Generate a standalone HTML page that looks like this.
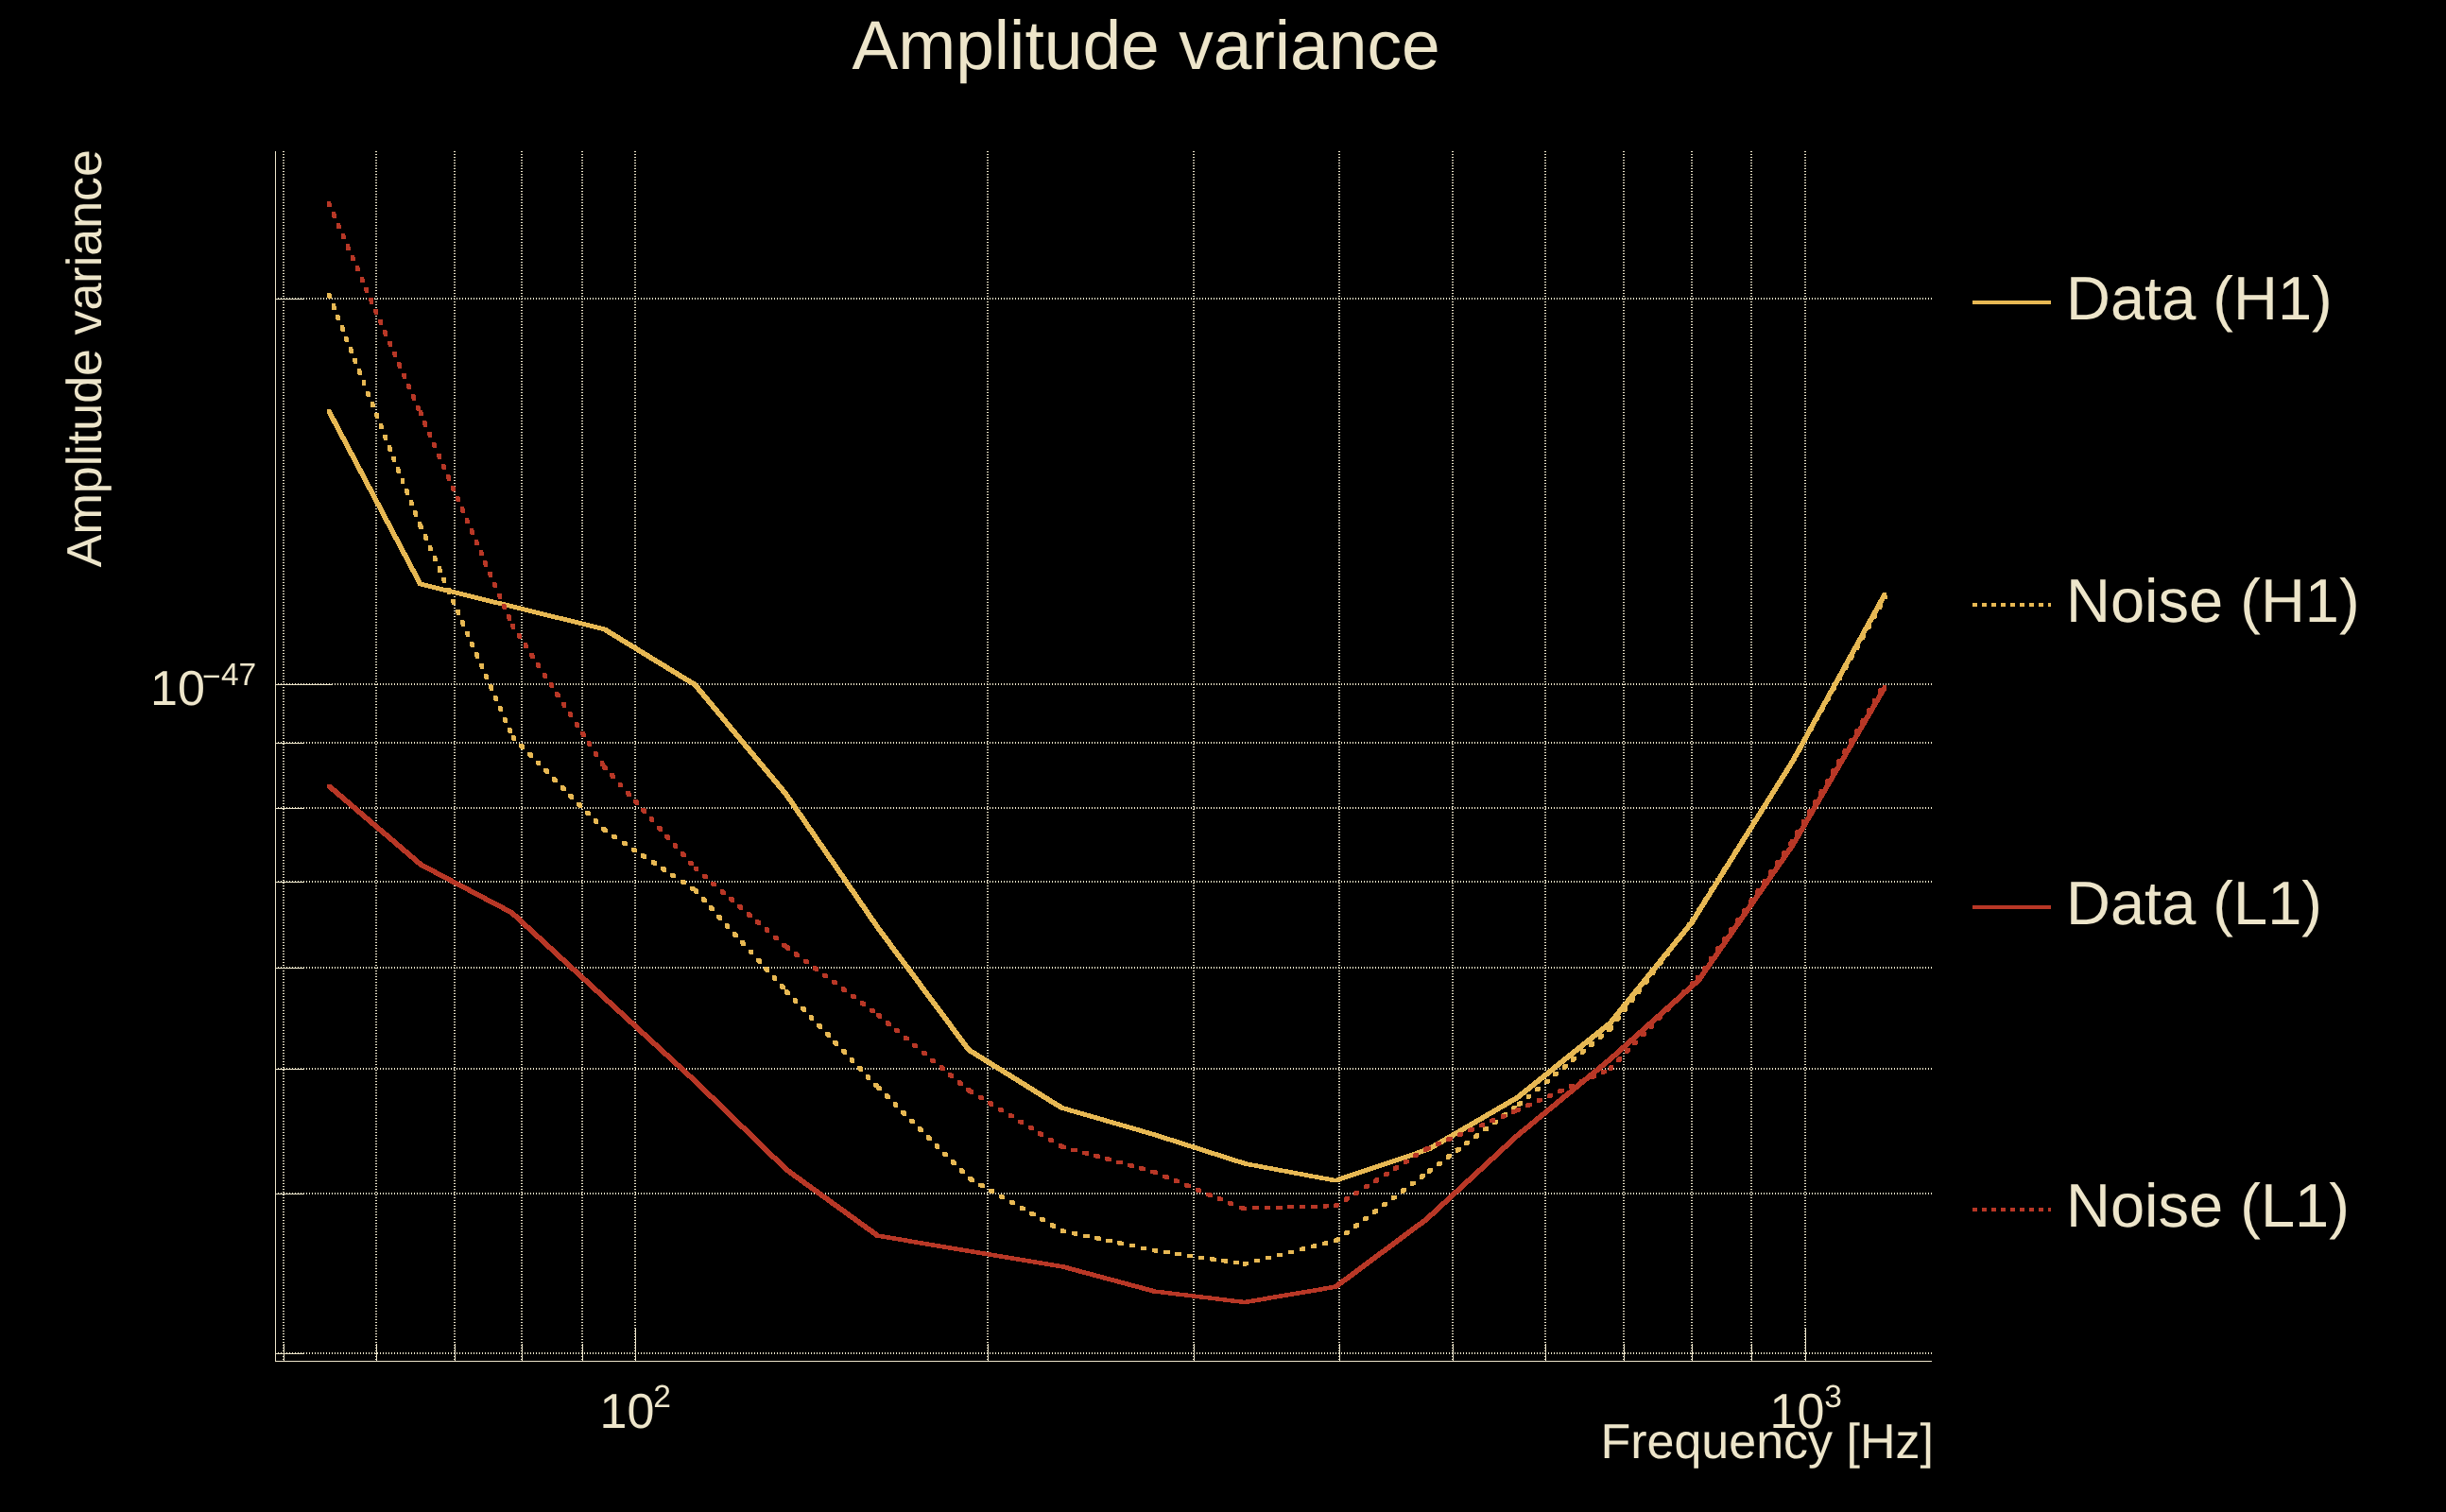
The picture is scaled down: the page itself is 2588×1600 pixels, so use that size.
<!DOCTYPE html>
<html><head><meta charset="utf-8"><title>Amplitude variance</title>
<style>html,body{margin:0;padding:0;background:#000;}body{width:2588px;height:1600px;overflow:hidden;}svg{display:block;}text{font-family:"Liberation Sans",sans-serif;fill:#EDE5CA;text-rendering:geometricPrecision;}</style>
</head><body>
<svg width="2588" height="1600" viewBox="0 0 2588 1600">
<rect x="0" y="0" width="2588" height="1600" fill="#000"/>
<g stroke="#EDE5CA" stroke-width="2" stroke-dasharray="1 2" shape-rendering="crispEdges" fill="none">
<line x1="300" y1="160" x2="300" y2="1440"/>
<line x1="398" y1="160" x2="398" y2="1440"/>
<line x1="481" y1="160" x2="481" y2="1440"/>
<line x1="552" y1="160" x2="552" y2="1440"/>
<line x1="616" y1="160" x2="616" y2="1440"/>
<line x1="1045" y1="160" x2="1045" y2="1440"/>
<line x1="1263" y1="160" x2="1263" y2="1440"/>
<line x1="1417" y1="160" x2="1417" y2="1440"/>
<line x1="1537" y1="160" x2="1537" y2="1440"/>
<line x1="1635" y1="160" x2="1635" y2="1440"/>
<line x1="1718" y1="160" x2="1718" y2="1440"/>
<line x1="1790" y1="160" x2="1790" y2="1440"/>
<line x1="1853" y1="160" x2="1853" y2="1440"/>
<line x1="672" y1="160" x2="672" y2="1440"/>
<line x1="1910" y1="160" x2="1910" y2="1440"/>
<line x1="291" y1="316" x2="2044" y2="316"/>
<line x1="291" y1="786" x2="2044" y2="786"/>
<line x1="291" y1="855" x2="2044" y2="855"/>
<line x1="291" y1="933" x2="2044" y2="933"/>
<line x1="291" y1="1024" x2="2044" y2="1024"/>
<line x1="291" y1="1131" x2="2044" y2="1131"/>
<line x1="291" y1="1263" x2="2044" y2="1263"/>
<line x1="291" y1="1432" x2="2044" y2="1432"/>
<line x1="291" y1="724" x2="2044" y2="724"/>
</g>
<g fill="#EDE5CA" shape-rendering="crispEdges">
<rect x="291" y="160" width="1" height="1281"/>
<rect x="291" y="1440" width="1753" height="1"/>
<rect x="300" y="1422" width="1" height="18"/>
<rect x="398" y="1422" width="1" height="18"/>
<rect x="481" y="1422" width="1" height="18"/>
<rect x="552" y="1422" width="1" height="18"/>
<rect x="616" y="1422" width="1" height="18"/>
<rect x="1045" y="1422" width="1" height="18"/>
<rect x="1263" y="1422" width="1" height="18"/>
<rect x="1417" y="1422" width="1" height="18"/>
<rect x="1537" y="1422" width="1" height="18"/>
<rect x="1635" y="1422" width="1" height="18"/>
<rect x="1718" y="1422" width="1" height="18"/>
<rect x="1790" y="1422" width="1" height="18"/>
<rect x="1853" y="1422" width="1" height="18"/>
<rect x="672" y="1405" width="1" height="35"/>
<rect x="1910" y="1405" width="1" height="35"/>
<rect x="291" y="316" width="31" height="1"/>
<rect x="291" y="786" width="31" height="1"/>
<rect x="291" y="855" width="31" height="1"/>
<rect x="291" y="933" width="31" height="1"/>
<rect x="291" y="1024" width="31" height="1"/>
<rect x="291" y="1131" width="31" height="1"/>
<rect x="291" y="1263" width="31" height="1"/>
<rect x="291" y="1432" width="31" height="1"/>
<rect x="291" y="724" width="61" height="1"/>
</g>
<g shape-rendering="crispEdges" stroke="none">
<path fill="#E7B853" d="M345.8 432.7 L349.8 432.7 L446.6 615.9 L446.6 619.9 L442.6 619.9 L345.8 436.7ZM442.6 615.9 L446.6 615.9 L543.5 639.7 L543.5 643.7 L539.5 643.7 L442.6 619.9ZM539.5 639.7 L543.5 639.7 L641.4 663.8 L641.4 667.8 L637.4 667.8 L539.5 643.7ZM637.4 663.8 L641.4 663.8 L737.3 722.6 L737.3 726.6 L733.3 726.6 L637.4 667.8ZM733.3 722.6 L737.3 722.6 L833.7 838.4 L833.7 842.4 L829.7 842.4 L733.3 726.6ZM829.7 838.4 L833.7 838.4 L931.0 980.0 L931.0 984.0 L927.0 984.0 L829.7 842.4ZM927.0 980.0 L931.0 980.0 L1027.0 1109.0 L1027.0 1113.0 L1023.0 1113.0 L927.0 984.0ZM1023.0 1109.0 L1027.0 1109.0 L1125.4 1170.3 L1125.4 1174.3 L1121.4 1174.3 L1023.0 1113.0ZM1121.4 1170.3 L1125.4 1170.3 L1222.8 1198.5 L1222.8 1202.5 L1218.8 1202.5 L1121.4 1174.3ZM1218.8 1198.5 L1222.8 1198.5 L1319.9 1229.5 L1319.9 1233.5 L1315.9 1233.5 L1218.8 1202.5ZM1315.9 1229.5 L1319.9 1229.5 L1415.2 1247.3 L1415.2 1251.3 L1411.2 1251.3 L1315.9 1233.5ZM1411.2 1247.3 L1509.6 1214.1 L1513.6 1214.1 L1513.6 1218.1 L1415.2 1251.3 L1411.2 1251.3ZM1509.6 1214.1 L1603.3 1159.5 L1607.3 1159.5 L1607.3 1163.5 L1513.6 1218.1 L1509.6 1218.1ZM1603.3 1159.5 L1701.3 1081.0 L1705.3 1081.0 L1705.3 1085.0 L1607.3 1163.5 L1603.3 1163.5ZM1701.3 1081.0 L1788.5 973.5 L1792.5 973.5 L1792.5 977.5 L1705.3 1085.0 L1701.3 1085.0ZM1788.5 973.5 L1895.0 803.0 L1899.0 803.0 L1899.0 807.0 L1792.5 977.5 L1788.5 977.5ZM1895.0 803.0 L1992.3 626.8 L1996.3 626.8 L1996.3 630.8 L1899.0 807.0 L1895.0 807.0Z"/>
<path fill="#E7B853" d="M346.0 309.7 L350.0 309.7 L350.9 312.0 L350.9 316.0 L346.9 316.0 L346.0 313.7ZM350.6 321.2 L354.6 321.2 L355.5 323.6 L355.5 327.6 L351.5 327.6 L350.6 325.2ZM355.1 332.8 L359.1 332.8 L360.0 335.1 L360.0 339.1 L356.0 339.1 L355.1 336.8ZM359.7 344.3 L363.7 344.3 L364.6 346.6 L364.6 350.6 L360.6 350.6 L359.7 348.3ZM364.2 355.8 L368.2 355.8 L369.2 358.1 L369.2 362.1 L365.2 362.1 L364.2 359.8ZM368.8 367.4 L372.8 367.4 L373.7 369.7 L373.7 373.7 L369.7 373.7 L368.8 371.4ZM373.4 378.9 L377.4 378.9 L378.3 381.2 L378.3 385.2 L374.3 385.2 L373.4 382.9ZM377.9 390.4 L381.9 390.4 L382.8 392.7 L382.8 396.7 L378.8 396.7 L377.9 394.4ZM382.5 402.0 L386.5 402.0 L387.4 404.3 L387.4 408.3 L383.4 408.3 L382.5 406.0ZM387.0 413.5 L391.0 413.5 L392.0 415.8 L392.0 419.8 L388.0 419.8 L387.0 417.5ZM391.6 425.0 L395.6 425.0 L396.5 427.3 L396.5 431.3 L392.5 431.3 L391.6 429.0ZM396.2 436.5 L400.2 436.5 L401.1 438.9 L401.1 442.9 L397.1 442.9 L396.2 440.5ZM400.7 448.1 L404.7 448.1 L405.6 450.4 L405.6 454.4 L401.6 454.4 L400.7 452.1ZM405.3 459.6 L409.3 459.6 L410.2 461.9 L410.2 465.9 L406.2 465.9 L405.3 463.6ZM409.8 471.1 L413.8 471.1 L414.8 473.5 L414.8 477.5 L410.8 477.5 L409.8 475.1ZM414.4 482.7 L418.4 482.7 L419.3 485.0 L419.3 489.0 L415.3 489.0 L414.4 486.7ZM419.0 494.2 L423.0 494.2 L423.9 496.5 L423.9 500.5 L419.9 500.5 L419.0 498.2ZM423.5 505.7 L427.5 505.7 L428.4 508.1 L428.4 512.1 L424.4 512.1 L423.5 509.7ZM428.1 517.3 L432.1 517.3 L433.0 519.6 L433.0 523.6 L429.0 523.6 L428.1 521.3ZM432.6 528.8 L436.6 528.8 L437.6 531.1 L437.6 535.1 L433.6 535.1 L432.6 532.8ZM437.2 540.3 L441.2 540.3 L442.1 542.6 L442.1 546.6 L438.1 546.6 L437.2 544.3ZM441.8 551.9 L445.8 551.9 L446.6 554.0 L446.6 558.0 L442.6 558.0 L441.8 555.9ZM442.6 554.0 L446.6 554.0 L447.6 556.3 L447.6 560.3 L443.6 560.3 L442.6 558.0ZM447.6 565.4 L451.6 565.4 L452.6 567.7 L452.6 571.7 L448.6 571.7 L447.6 569.4ZM452.5 576.7 L456.5 576.7 L457.5 579.0 L457.5 583.0 L453.5 583.0 L452.5 580.7ZM457.5 588.1 L461.5 588.1 L462.5 590.4 L462.5 594.4 L458.5 594.4 L457.5 592.1ZM462.5 599.4 L466.5 599.4 L467.5 601.7 L467.5 605.7 L463.5 605.7 L462.5 603.4ZM467.4 610.8 L471.4 610.8 L472.4 613.1 L472.4 617.1 L468.4 617.1 L467.4 614.8ZM472.4 622.2 L476.4 622.2 L477.4 624.5 L477.4 628.5 L473.4 628.5 L472.4 626.2ZM477.4 633.5 L481.4 633.5 L482.4 635.8 L482.4 639.8 L478.4 639.8 L477.4 637.5ZM482.3 644.9 L486.3 644.9 L487.3 647.2 L487.3 651.2 L483.3 651.2 L482.3 648.9ZM487.3 656.3 L491.3 656.3 L492.3 658.6 L492.3 662.6 L488.3 662.6 L487.3 660.3ZM492.3 667.6 L496.3 667.6 L497.3 669.9 L497.3 673.9 L493.3 673.9 L492.3 671.6ZM497.2 679.0 L501.2 679.0 L502.2 681.3 L502.2 685.3 L498.2 685.3 L497.2 683.0ZM502.2 690.3 L506.2 690.3 L507.2 692.6 L507.2 696.6 L503.2 696.6 L502.2 694.3ZM507.2 701.7 L511.2 701.7 L512.2 704.0 L512.2 708.0 L508.2 708.0 L507.2 705.7ZM512.1 713.1 L516.1 713.1 L517.1 715.4 L517.1 719.4 L513.1 719.4 L512.1 717.1ZM517.1 724.4 L521.1 724.4 L522.1 726.7 L522.1 730.7 L518.1 730.7 L517.1 728.4ZM522.1 735.8 L526.1 735.8 L527.1 738.1 L527.1 742.1 L523.1 742.1 L522.1 739.8ZM527.0 747.2 L531.0 747.2 L532.0 749.4 L532.0 753.4 L528.0 753.4 L527.0 751.2ZM532.0 758.5 L536.0 758.5 L537.0 760.8 L537.0 764.8 L533.0 764.8 L532.0 762.5ZM537.0 769.9 L541.0 769.9 L542.0 772.2 L542.0 776.2 L538.0 776.2 L537.0 773.9ZM540.5 778.0 L544.5 778.0 L546.3 779.8 L546.3 783.8 L542.3 783.8 L540.5 782.0ZM549.2 786.8 L553.2 786.8 L555.0 788.6 L555.0 792.6 L551.0 792.6 L549.2 790.8ZM557.9 795.7 L561.9 795.7 L563.7 797.5 L563.7 801.5 L559.7 801.5 L557.9 799.7ZM566.6 804.5 L570.6 804.5 L572.4 806.3 L572.4 810.3 L568.4 810.3 L566.6 808.5ZM575.3 813.3 L579.3 813.3 L581.1 815.1 L581.1 819.1 L577.1 819.1 L575.3 817.3ZM584.0 822.2 L588.0 822.2 L589.8 824.0 L589.8 828.0 L585.8 828.0 L584.0 826.2ZM592.7 831.0 L596.7 831.0 L598.5 832.8 L598.5 836.8 L594.5 836.8 L592.7 835.0ZM601.4 839.8 L605.4 839.8 L607.2 841.6 L607.2 845.6 L603.2 845.6 L601.4 843.8ZM610.1 848.7 L614.1 848.7 L615.9 850.5 L615.9 854.5 L611.9 854.5 L610.1 852.7ZM618.8 857.5 L622.8 857.5 L624.6 859.3 L624.6 863.3 L620.6 863.3 L618.8 861.5ZM627.5 866.4 L631.5 866.4 L633.3 868.1 L633.3 872.1 L629.3 872.1 L627.5 870.4ZM636.2 875.2 L640.2 875.2 L641.0 876.0 L641.0 880.0 L637.0 880.0 L636.2 879.2ZM637.0 876.0 L641.0 876.0 L643.1 877.4 L643.1 881.4 L639.1 881.4 L637.0 880.0ZM647.3 882.9 L651.3 882.9 L653.4 884.2 L653.4 888.2 L649.4 888.2 L647.3 886.9ZM657.7 889.7 L661.7 889.7 L663.8 891.1 L663.8 895.1 L659.8 895.1 L657.7 893.7ZM668.0 896.6 L672.0 896.6 L674.1 897.9 L674.1 901.9 L670.1 901.9 L668.0 900.6ZM678.3 903.4 L682.3 903.4 L684.4 904.8 L684.4 908.8 L680.4 908.8 L678.3 907.4ZM688.7 910.3 L692.7 910.3 L694.8 911.6 L694.8 915.6 L690.8 915.6 L688.7 914.3ZM699.0 917.1 L703.0 917.1 L705.1 918.5 L705.1 922.5 L701.1 922.5 L699.0 921.1ZM709.3 924.0 L713.3 924.0 L715.4 925.4 L715.4 929.4 L711.4 929.4 L709.3 928.0ZM719.7 930.8 L723.7 930.8 L725.8 932.2 L725.8 936.2 L721.8 936.2 L719.7 934.8ZM730.0 937.7 L734.0 937.7 L736.1 939.1 L736.1 943.1 L732.1 943.1 L730.0 941.7ZM733.5 940.0 L737.5 940.0 L739.2 941.9 L739.2 945.9 L735.2 945.9 L733.5 944.0ZM741.8 949.2 L745.8 949.2 L747.5 951.1 L747.5 955.1 L743.5 955.1 L741.8 953.2ZM750.1 958.4 L754.1 958.4 L755.8 960.3 L755.8 964.3 L751.8 964.3 L750.1 962.4ZM758.4 967.6 L762.4 967.6 L764.1 969.5 L764.1 973.5 L760.1 973.5 L758.4 971.6ZM766.7 976.8 L770.7 976.8 L772.4 978.7 L772.4 982.7 L768.4 982.7 L766.7 980.8ZM775.0 986.0 L779.0 986.0 L780.7 987.9 L780.7 991.9 L776.7 991.9 L775.0 990.0ZM783.3 995.2 L787.3 995.2 L789.0 997.1 L789.0 1001.1 L785.0 1001.1 L783.3 999.2ZM791.6 1004.5 L795.6 1004.5 L797.3 1006.3 L797.3 1010.3 L793.3 1010.3 L791.6 1008.5ZM799.9 1013.7 L803.9 1013.7 L805.6 1015.5 L805.6 1019.5 L801.6 1019.5 L799.9 1017.7ZM808.2 1022.9 L812.2 1022.9 L813.9 1024.7 L813.9 1028.7 L809.9 1028.7 L808.2 1026.9ZM816.5 1032.1 L820.5 1032.1 L822.2 1033.9 L822.2 1037.9 L818.2 1037.9 L816.5 1036.1ZM824.9 1041.3 L828.9 1041.3 L830.5 1043.1 L830.5 1047.1 L826.5 1047.1 L824.9 1045.3ZM830.0 1047.0 L834.0 1047.0 L835.7 1048.8 L835.7 1052.8 L831.7 1052.8 L830.0 1051.0ZM838.6 1056.0 L842.6 1056.0 L844.3 1057.8 L844.3 1061.8 L840.3 1061.8 L838.6 1060.0ZM847.1 1064.9 L851.1 1064.9 L852.9 1066.7 L852.9 1070.7 L848.9 1070.7 L847.1 1068.9ZM855.7 1073.9 L859.7 1073.9 L861.4 1075.7 L861.4 1079.7 L857.4 1079.7 L855.7 1077.9ZM864.3 1082.9 L868.3 1082.9 L870.0 1084.7 L870.0 1088.7 L866.0 1088.7 L864.3 1086.9ZM872.8 1091.8 L876.8 1091.8 L878.6 1093.6 L878.6 1097.6 L874.6 1097.6 L872.8 1095.8ZM881.4 1100.8 L885.4 1100.8 L887.1 1102.6 L887.1 1106.6 L883.1 1106.6 L881.4 1104.8ZM890.0 1109.8 L894.0 1109.8 L895.7 1111.6 L895.7 1115.6 L891.7 1115.6 L890.0 1113.8ZM898.5 1118.7 L902.5 1118.7 L904.3 1120.5 L904.3 1124.5 L900.3 1124.5 L898.5 1122.7ZM907.1 1127.7 L911.1 1127.7 L912.8 1129.5 L912.8 1133.5 L908.8 1133.5 L907.1 1131.7ZM915.7 1136.6 L919.7 1136.6 L921.4 1138.5 L921.4 1142.5 L917.4 1142.5 L915.7 1140.6ZM924.2 1145.6 L928.2 1145.6 L930.0 1147.4 L930.0 1151.4 L926.0 1151.4 L924.2 1149.6ZM927.0 1148.5 L931.0 1148.5 L932.8 1150.3 L932.8 1154.3 L928.8 1154.3 L927.0 1152.5ZM935.8 1157.2 L939.8 1157.2 L941.6 1159.0 L941.6 1163.0 L937.6 1163.0 L935.8 1161.2ZM944.6 1166.0 L948.6 1166.0 L950.4 1167.8 L950.4 1171.8 L946.4 1171.8 L944.6 1170.0ZM953.4 1174.7 L957.4 1174.7 L959.1 1176.5 L959.1 1180.5 L955.1 1180.5 L953.4 1178.7ZM962.2 1183.5 L966.2 1183.5 L967.9 1185.2 L967.9 1189.2 L963.9 1189.2 L962.2 1187.5ZM971.0 1192.2 L975.0 1192.2 L976.7 1194.0 L976.7 1198.0 L972.7 1198.0 L971.0 1196.2ZM979.7 1201.0 L983.7 1201.0 L985.5 1202.7 L985.5 1206.7 L981.5 1206.7 L979.7 1205.0ZM988.5 1209.7 L992.5 1209.7 L994.3 1211.5 L994.3 1215.5 L990.3 1215.5 L988.5 1213.7ZM997.3 1218.5 L1001.3 1218.5 L1003.1 1220.2 L1003.1 1224.2 L999.1 1224.2 L997.3 1222.5ZM1006.1 1227.2 L1010.1 1227.2 L1011.9 1229.0 L1011.9 1233.0 L1007.9 1233.0 L1006.1 1231.2ZM1014.9 1236.0 L1018.9 1236.0 L1020.7 1237.7 L1020.7 1241.7 L1016.7 1241.7 L1014.9 1240.0ZM1023.7 1244.7 L1027.7 1244.7 L1028.5 1245.5 L1028.5 1249.5 L1024.5 1249.5 L1023.7 1248.7ZM1024.5 1245.5 L1028.5 1245.5 L1030.7 1246.7 L1030.7 1250.7 L1026.7 1250.7 L1024.5 1249.5ZM1035.3 1251.6 L1039.3 1251.6 L1041.5 1252.8 L1041.5 1256.8 L1037.5 1256.8 L1035.3 1255.6ZM1046.1 1257.7 L1050.1 1257.7 L1052.3 1258.9 L1052.3 1262.9 L1048.3 1262.9 L1046.1 1261.7ZM1056.9 1263.8 L1060.9 1263.8 L1063.1 1265.0 L1063.1 1269.0 L1059.1 1269.0 L1056.9 1267.8ZM1067.7 1269.9 L1071.7 1269.9 L1073.9 1271.1 L1073.9 1275.1 L1069.9 1275.1 L1067.7 1273.9ZM1078.5 1276.0 L1082.5 1276.0 L1084.7 1277.2 L1084.7 1281.2 L1080.7 1281.2 L1078.5 1280.0ZM1089.3 1282.1 L1093.3 1282.1 L1095.5 1283.3 L1095.5 1287.3 L1091.5 1287.3 L1089.3 1286.1ZM1100.1 1288.2 L1104.1 1288.2 L1106.3 1289.4 L1106.3 1293.4 L1102.3 1293.4 L1100.1 1292.2ZM1110.9 1294.2 L1114.9 1294.2 L1117.1 1295.5 L1117.1 1299.5 L1113.1 1299.5 L1110.9 1298.2ZM1121.7 1300.3 L1125.7 1300.3 L1125.8 1300.4 L1125.8 1304.4 L1121.8 1304.4 L1121.7 1304.3ZM1121.8 1300.4 L1125.8 1300.4 L1128.2 1300.9 L1128.2 1304.9 L1124.2 1304.9 L1121.8 1304.4ZM1133.9 1303.0 L1137.9 1303.0 L1140.4 1303.5 L1140.4 1307.5 L1136.4 1307.5 L1133.9 1307.0ZM1146.1 1305.6 L1150.1 1305.6 L1152.5 1306.1 L1152.5 1310.1 L1148.5 1310.1 L1146.1 1309.6ZM1158.2 1308.2 L1162.2 1308.2 L1164.6 1308.7 L1164.6 1312.7 L1160.6 1312.7 L1158.2 1312.2ZM1170.3 1310.8 L1174.3 1310.8 L1176.8 1311.3 L1176.8 1315.3 L1172.8 1315.3 L1170.3 1314.8ZM1182.4 1313.3 L1186.4 1313.3 L1188.9 1313.9 L1188.9 1317.9 L1184.9 1317.9 L1182.4 1317.3ZM1194.6 1315.9 L1198.6 1315.9 L1201.0 1316.4 L1201.0 1320.4 L1197.0 1320.4 L1194.6 1319.9ZM1206.7 1318.5 L1210.7 1318.5 L1213.1 1319.0 L1213.1 1323.0 L1209.1 1323.0 L1206.7 1322.5ZM1218.8 1321.1 L1222.8 1321.1 L1225.3 1321.5 L1225.3 1325.5 L1221.3 1325.5 L1218.8 1325.1ZM1231.1 1322.9 L1235.1 1322.9 L1237.5 1323.3 L1237.5 1327.3 L1233.5 1327.3 L1231.1 1326.9ZM1243.3 1324.8 L1247.3 1324.8 L1249.8 1325.1 L1249.8 1329.1 L1245.8 1329.1 L1243.3 1328.8ZM1255.6 1326.6 L1259.6 1326.6 L1262.1 1327.0 L1262.1 1331.0 L1258.1 1331.0 L1255.6 1330.6ZM1267.9 1328.5 L1271.9 1328.5 L1274.3 1328.8 L1274.3 1332.8 L1270.3 1332.8 L1267.9 1332.5ZM1280.1 1330.3 L1284.1 1330.3 L1286.6 1330.7 L1286.6 1334.7 L1282.6 1334.7 L1280.1 1334.3ZM1292.4 1332.1 L1296.4 1332.1 L1298.9 1332.5 L1298.9 1336.5 L1294.9 1336.5 L1292.4 1336.1ZM1304.6 1334.0 L1308.6 1334.0 L1311.1 1334.3 L1311.1 1338.3 L1307.1 1338.3 L1304.6 1338.0ZM1314.9 1335.5 L1317.3 1334.9 L1321.3 1334.9 L1321.3 1338.9 L1318.9 1339.5 L1314.9 1339.5ZM1326.9 1332.4 L1329.3 1331.8 L1333.3 1331.8 L1333.3 1335.8 L1330.9 1336.4 L1326.9 1336.4ZM1338.9 1329.3 L1341.3 1328.7 L1345.3 1328.7 L1345.3 1332.7 L1342.9 1333.3 L1338.9 1333.3ZM1350.9 1326.2 L1353.4 1325.6 L1357.4 1325.6 L1357.4 1329.6 L1354.9 1330.2 L1350.9 1330.2ZM1362.9 1323.2 L1365.4 1322.5 L1369.4 1322.5 L1369.4 1326.5 L1366.9 1327.2 L1362.9 1327.2ZM1374.9 1320.1 L1377.4 1319.4 L1381.4 1319.4 L1381.4 1323.4 L1378.9 1324.1 L1374.9 1324.1ZM1387.0 1317.0 L1389.4 1316.4 L1393.4 1316.4 L1393.4 1320.4 L1391.0 1321.0 L1387.0 1321.0ZM1399.0 1313.9 L1401.4 1313.3 L1405.4 1313.3 L1405.4 1317.3 L1403.0 1317.9 L1399.0 1317.9ZM1411.0 1310.8 L1412.2 1310.5 L1416.2 1310.5 L1416.2 1314.5 L1415.0 1314.8 L1411.0 1314.8ZM1412.2 1310.5 L1414.2 1309.0 L1418.2 1309.0 L1418.2 1313.0 L1416.2 1314.5 L1412.2 1314.5ZM1422.1 1303.1 L1424.1 1301.6 L1428.1 1301.6 L1428.1 1305.6 L1426.1 1307.1 L1422.1 1307.1ZM1432.1 1295.7 L1434.1 1294.2 L1438.1 1294.2 L1438.1 1298.2 L1436.1 1299.7 L1432.1 1299.7ZM1442.0 1288.2 L1444.0 1286.7 L1448.0 1286.7 L1448.0 1290.7 L1446.0 1292.2 L1442.0 1292.2ZM1451.9 1280.8 L1453.9 1279.3 L1457.9 1279.3 L1457.9 1283.3 L1455.9 1284.8 L1451.9 1284.8ZM1461.9 1273.4 L1463.9 1271.9 L1467.9 1271.9 L1467.9 1275.9 L1465.9 1277.4 L1461.9 1277.4ZM1471.8 1266.0 L1473.8 1264.5 L1477.8 1264.5 L1477.8 1268.5 L1475.8 1270.0 L1471.8 1270.0ZM1481.7 1258.5 L1483.7 1257.0 L1487.7 1257.0 L1487.7 1261.0 L1485.7 1262.5 L1481.7 1262.5ZM1491.7 1251.1 L1493.7 1249.6 L1497.7 1249.6 L1497.7 1253.6 L1495.7 1255.1 L1491.7 1255.1ZM1501.6 1243.7 L1503.6 1242.2 L1507.6 1242.2 L1507.6 1246.2 L1505.6 1247.7 L1501.6 1247.7ZM1509.6 1237.7 L1511.6 1236.2 L1515.6 1236.2 L1515.6 1240.2 L1513.6 1241.7 L1509.6 1241.7ZM1519.6 1230.3 L1521.6 1228.8 L1525.6 1228.8 L1525.6 1232.8 L1523.6 1234.3 L1519.6 1234.3ZM1529.5 1222.9 L1531.5 1221.4 L1535.5 1221.4 L1535.5 1225.4 L1533.5 1226.9 L1529.5 1226.9ZM1539.5 1215.5 L1541.5 1214.0 L1545.5 1214.0 L1545.5 1218.0 L1543.5 1219.5 L1539.5 1219.5ZM1549.4 1208.1 L1551.4 1206.7 L1555.4 1206.7 L1555.4 1210.7 L1553.4 1212.1 L1549.4 1212.1ZM1559.4 1200.8 L1561.4 1199.3 L1565.4 1199.3 L1565.4 1203.3 L1563.4 1204.8 L1559.4 1204.8ZM1569.4 1193.4 L1571.4 1191.9 L1575.4 1191.9 L1575.4 1195.9 L1573.4 1197.4 L1569.4 1197.4ZM1579.3 1186.0 L1581.3 1184.5 L1585.3 1184.5 L1585.3 1188.5 L1583.3 1190.0 L1579.3 1190.0ZM1589.3 1178.6 L1591.3 1177.1 L1595.3 1177.1 L1595.3 1181.1 L1593.3 1182.6 L1589.3 1182.6ZM1599.2 1171.2 L1601.2 1169.7 L1605.2 1169.7 L1605.2 1173.7 L1603.2 1175.2 L1599.2 1175.2ZM1604.9 1167.0 L1606.8 1165.4 L1610.8 1165.4 L1610.8 1169.4 L1608.9 1171.0 L1604.9 1171.0ZM1614.5 1159.1 L1616.4 1157.5 L1620.4 1157.5 L1620.4 1161.5 L1618.5 1163.1 L1614.5 1163.1ZM1624.0 1151.2 L1625.9 1149.6 L1629.9 1149.6 L1629.9 1153.6 L1628.0 1155.2 L1624.0 1155.2ZM1633.6 1143.3 L1635.5 1141.7 L1639.5 1141.7 L1639.5 1145.7 L1637.6 1147.3 L1633.6 1147.3ZM1643.1 1135.4 L1645.0 1133.8 L1649.0 1133.8 L1649.0 1137.8 L1647.1 1139.4 L1643.1 1139.4ZM1652.7 1127.5 L1654.6 1125.9 L1658.6 1125.9 L1658.6 1129.9 L1656.7 1131.5 L1652.7 1131.5ZM1662.2 1119.5 L1664.1 1118.0 L1668.1 1118.0 L1668.1 1122.0 L1666.2 1123.5 L1662.2 1123.5ZM1671.8 1111.6 L1673.7 1110.0 L1677.7 1110.0 L1677.7 1114.0 L1675.8 1115.6 L1671.8 1115.6ZM1681.3 1103.7 L1683.2 1102.1 L1687.2 1102.1 L1687.2 1106.1 L1685.3 1107.7 L1681.3 1107.7ZM1690.9 1095.8 L1692.8 1094.2 L1696.8 1094.2 L1696.8 1098.2 L1694.9 1099.8 L1690.9 1099.8ZM1700.4 1087.9 L1701.5 1087.0 L1705.5 1087.0 L1705.5 1091.0 L1704.4 1091.9 L1700.4 1091.9ZM1701.5 1087.0 L1703.0 1085.0 L1707.0 1085.0 L1707.0 1089.0 L1705.5 1091.0 L1701.5 1091.0ZM1709.0 1077.1 L1710.5 1075.1 L1714.5 1075.1 L1714.5 1079.1 L1713.0 1081.1 L1709.0 1081.1ZM1716.5 1067.2 L1718.0 1065.3 L1722.0 1065.3 L1722.0 1069.3 L1720.5 1071.2 L1716.5 1071.2ZM1724.0 1057.4 L1725.5 1055.4 L1729.5 1055.4 L1729.5 1059.4 L1728.0 1061.4 L1724.0 1061.4ZM1731.5 1047.5 L1733.0 1045.5 L1737.0 1045.5 L1737.0 1049.5 L1735.5 1051.5 L1731.5 1051.5ZM1739.0 1037.6 L1740.5 1035.6 L1744.5 1035.6 L1744.5 1039.6 L1743.0 1041.6 L1739.0 1041.6ZM1746.5 1027.7 L1748.0 1025.7 L1752.0 1025.7 L1752.0 1029.7 L1750.5 1031.7 L1746.5 1031.7ZM1754.0 1017.9 L1755.5 1015.9 L1759.5 1015.9 L1759.5 1019.9 L1758.0 1021.9 L1754.0 1021.9ZM1761.5 1008.0 L1763.0 1006.0 L1767.0 1006.0 L1767.0 1010.0 L1765.5 1012.0 L1761.5 1012.0ZM1769.0 998.1 L1770.5 996.1 L1774.5 996.1 L1774.5 1000.1 L1773.0 1002.1 L1769.0 1002.1ZM1776.5 988.2 L1778.0 986.2 L1782.0 986.2 L1782.0 990.2 L1780.5 992.2 L1776.5 992.2ZM1783.9 978.3 L1785.5 976.3 L1789.5 976.3 L1789.5 980.3 L1787.9 982.3 L1783.9 982.3ZM1788.0 973.0 L1789.3 970.9 L1793.3 970.9 L1793.3 974.9 L1792.0 977.0 L1788.0 977.0ZM1794.6 962.5 L1795.9 960.4 L1799.9 960.4 L1799.9 964.4 L1798.6 966.5 L1794.6 966.5ZM1801.2 952.0 L1802.6 949.9 L1806.6 949.9 L1806.6 953.9 L1805.2 956.0 L1801.2 956.0ZM1807.8 941.5 L1809.2 939.4 L1813.2 939.4 L1813.2 943.4 L1811.8 945.5 L1807.8 945.5ZM1814.5 931.0 L1815.8 928.9 L1819.8 928.9 L1819.8 932.9 L1818.5 935.0 L1814.5 935.0ZM1821.1 920.6 L1822.4 918.4 L1826.4 918.4 L1826.4 922.4 L1825.1 924.6 L1821.1 924.6ZM1827.7 910.1 L1829.0 908.0 L1833.0 908.0 L1833.0 912.0 L1831.7 914.1 L1827.7 914.1ZM1834.3 899.6 L1835.6 897.5 L1839.6 897.5 L1839.6 901.5 L1838.3 903.6 L1834.3 903.6ZM1840.9 889.1 L1842.2 887.0 L1846.2 887.0 L1846.2 891.0 L1844.9 893.1 L1840.9 893.1ZM1847.5 878.6 L1848.9 876.5 L1852.9 876.5 L1852.9 880.5 L1851.5 882.6 L1847.5 882.6ZM1854.1 868.1 L1855.5 866.0 L1859.5 866.0 L1859.5 870.0 L1858.1 872.1 L1854.1 872.1ZM1860.7 857.6 L1862.1 855.5 L1866.1 855.5 L1866.1 859.5 L1864.7 861.6 L1860.7 861.6ZM1867.4 847.1 L1868.7 845.0 L1872.7 845.0 L1872.7 849.0 L1871.4 851.1 L1867.4 851.1ZM1874.0 836.6 L1875.3 834.5 L1879.3 834.5 L1879.3 838.5 L1878.0 840.6 L1874.0 840.6ZM1880.6 826.2 L1881.9 824.0 L1885.9 824.0 L1885.9 828.0 L1884.6 830.2 L1880.6 830.2ZM1887.2 815.7 L1888.5 813.5 L1892.5 813.5 L1892.5 817.5 L1891.2 819.7 L1887.2 819.7ZM1893.8 805.2 L1895.1 803.1 L1899.1 803.1 L1899.1 807.1 L1897.8 809.2 L1893.8 809.2ZM1895.5 802.5 L1896.7 800.3 L1900.7 800.3 L1900.7 804.3 L1899.5 806.5 L1895.5 806.5ZM1901.6 791.7 L1902.8 789.5 L1906.8 789.5 L1906.8 793.5 L1905.6 795.7 L1901.6 795.7ZM1907.7 780.9 L1908.9 778.7 L1912.9 778.7 L1912.9 782.7 L1911.7 784.9 L1907.7 784.9ZM1913.8 770.1 L1915.0 767.9 L1919.0 767.9 L1919.0 771.9 L1917.8 774.1 L1913.8 774.1ZM1919.9 759.3 L1921.1 757.1 L1925.1 757.1 L1925.1 761.1 L1923.9 763.3 L1919.9 763.3ZM1925.9 748.5 L1927.2 746.3 L1931.2 746.3 L1931.2 750.3 L1929.9 752.5 L1925.9 752.5ZM1932.0 737.7 L1933.3 735.5 L1937.3 735.5 L1937.3 739.5 L1936.0 741.7 L1932.0 741.7ZM1938.1 726.9 L1939.3 724.7 L1943.3 724.7 L1943.3 728.7 L1942.1 730.9 L1938.1 730.9ZM1944.2 716.1 L1945.4 713.9 L1949.4 713.9 L1949.4 717.9 L1948.2 720.1 L1944.2 720.1ZM1950.3 705.3 L1951.5 703.1 L1955.5 703.1 L1955.5 707.1 L1954.3 709.3 L1950.3 709.3ZM1956.4 694.5 L1957.6 692.3 L1961.6 692.3 L1961.6 696.3 L1960.4 698.5 L1956.4 698.5ZM1962.5 683.7 L1963.7 681.5 L1967.7 681.5 L1967.7 685.5 L1966.5 687.7 L1962.5 687.7ZM1968.6 672.9 L1969.8 670.7 L1973.8 670.7 L1973.8 674.7 L1972.6 676.9 L1968.6 676.9ZM1974.6 662.1 L1975.9 659.9 L1979.9 659.9 L1979.9 663.9 L1978.6 666.1 L1974.6 666.1ZM1980.7 651.3 L1982.0 649.1 L1986.0 649.1 L1986.0 653.1 L1984.7 655.3 L1980.7 655.3ZM1986.8 640.5 L1988.0 638.3 L1992.0 638.3 L1992.0 642.3 L1990.8 644.5 L1986.8 644.5ZM1992.9 629.7 L1993.0 629.5 L1997.0 629.5 L1997.0 633.5 L1996.9 633.7 L1992.9 633.7Z"/>
<path fill="#B83726" d="M345.7 829.5 L349.7 829.5 L447.5 913.1 L447.5 917.1 L443.5 917.1 L345.7 833.5ZM443.5 913.1 L447.5 913.1 L543.4 963.7 L543.4 967.7 L539.4 967.7 L443.5 917.1ZM539.4 963.7 L543.4 963.7 L641.0 1053.4 L641.0 1057.4 L637.0 1057.4 L539.4 967.7ZM637.0 1053.4 L641.0 1053.4 L737.5 1142.0 L737.5 1146.0 L733.5 1146.0 L637.0 1057.4ZM733.5 1142.0 L737.5 1142.0 L834.3 1235.9 L834.3 1239.9 L830.3 1239.9 L733.5 1146.0ZM830.3 1235.9 L834.3 1235.9 L930.6 1305.6 L930.6 1309.6 L926.6 1309.6 L830.3 1239.9ZM926.6 1305.6 L930.6 1305.6 L1027.5 1322.0 L1027.5 1326.0 L1023.5 1326.0 L926.6 1309.6ZM1023.5 1322.0 L1027.5 1322.0 L1126.4 1338.4 L1126.4 1342.4 L1122.4 1342.4 L1023.5 1326.0ZM1122.4 1338.4 L1126.4 1338.4 L1223.5 1364.5 L1223.5 1368.5 L1219.5 1368.5 L1122.4 1342.4ZM1219.5 1364.5 L1223.5 1364.5 L1318.9 1376.0 L1318.9 1380.0 L1314.9 1380.0 L1219.5 1368.5ZM1314.9 1376.0 L1411.2 1359.7 L1415.2 1359.7 L1415.2 1363.7 L1318.9 1380.0 L1314.9 1380.0ZM1411.2 1359.7 L1507.6 1288.0 L1511.6 1288.0 L1511.6 1292.0 L1415.2 1363.7 L1411.2 1363.7ZM1507.6 1288.0 L1603.0 1200.0 L1607.0 1200.0 L1607.0 1204.0 L1511.6 1292.0 L1507.6 1292.0ZM1603.0 1200.0 L1701.5 1119.0 L1705.5 1119.0 L1705.5 1123.0 L1607.0 1204.0 L1603.0 1204.0ZM1701.5 1119.0 L1795.5 1035.0 L1799.5 1035.0 L1799.5 1039.0 L1705.5 1123.0 L1701.5 1123.0ZM1795.5 1035.0 L1895.0 892.0 L1899.0 892.0 L1899.0 896.0 L1799.5 1039.0 L1795.5 1039.0ZM1895.0 892.0 L1992.3 725.2 L1996.3 725.2 L1996.3 729.2 L1899.0 896.0 L1895.0 896.0Z"/>
<path fill="#B83726" d="M345.6 213.0 L349.6 213.0 L350.6 215.3 L350.6 219.3 L346.6 219.3 L345.6 217.0ZM350.6 224.4 L354.6 224.4 L355.6 226.6 L355.6 230.6 L351.6 230.6 L350.6 228.4ZM355.6 235.7 L359.6 235.7 L360.6 238.0 L360.6 242.0 L356.6 242.0 L355.6 239.7ZM360.5 247.1 L364.5 247.1 L365.5 249.4 L365.5 253.4 L361.5 253.4 L360.5 251.1ZM365.5 258.4 L369.5 258.4 L370.5 260.7 L370.5 264.7 L366.5 264.7 L365.5 262.4ZM370.5 269.8 L374.5 269.8 L375.5 272.1 L375.5 276.1 L371.5 276.1 L370.5 273.8ZM375.5 281.1 L379.5 281.1 L380.5 283.4 L380.5 287.4 L376.5 287.4 L375.5 285.1ZM380.5 292.5 L384.5 292.5 L385.5 294.8 L385.5 298.8 L381.5 298.8 L380.5 296.5ZM385.4 303.9 L389.4 303.9 L390.4 306.1 L390.4 310.1 L386.4 310.1 L385.4 307.9ZM390.4 315.2 L394.4 315.2 L395.4 317.5 L395.4 321.5 L391.4 321.5 L390.4 319.2ZM395.4 326.6 L399.4 326.6 L400.4 328.9 L400.4 332.9 L396.4 332.9 L395.4 330.6ZM400.4 337.9 L404.4 337.9 L405.4 340.2 L405.4 344.2 L401.4 344.2 L400.4 341.9ZM405.4 349.3 L409.4 349.3 L410.4 351.6 L410.4 355.6 L406.4 355.6 L405.4 353.3ZM410.3 360.6 L414.3 360.6 L415.3 362.9 L415.3 366.9 L411.3 366.9 L410.3 364.6ZM415.3 372.0 L419.3 372.0 L420.3 374.3 L420.3 378.3 L416.3 378.3 L415.3 376.0ZM420.3 383.3 L424.3 383.3 L425.3 385.6 L425.3 389.6 L421.3 389.6 L420.3 387.3ZM425.3 394.7 L429.3 394.7 L430.3 397.0 L430.3 401.0 L426.3 401.0 L425.3 398.7ZM430.2 406.1 L434.2 406.1 L435.3 408.3 L435.3 412.3 L431.3 412.3 L430.2 410.1ZM435.2 417.4 L439.2 417.4 L440.2 419.7 L440.2 423.7 L436.2 423.7 L435.2 421.4ZM440.2 428.8 L444.2 428.8 L445.2 431.1 L445.2 435.1 L441.2 435.1 L440.2 432.8ZM442.5 434.0 L446.5 434.0 L447.5 436.3 L447.5 440.3 L443.5 440.3 L442.5 438.0ZM447.4 445.4 L451.4 445.4 L452.4 447.7 L452.4 451.7 L448.4 451.7 L447.4 449.4ZM452.3 456.8 L456.3 456.8 L457.3 459.1 L457.3 463.1 L453.3 463.1 L452.3 460.8ZM457.3 468.1 L461.3 468.1 L462.3 470.4 L462.3 474.4 L458.3 474.4 L457.3 472.1ZM462.2 479.5 L466.2 479.5 L467.2 481.8 L467.2 485.8 L463.2 485.8 L462.2 483.5ZM467.1 490.9 L471.1 490.9 L472.1 493.2 L472.1 497.2 L468.1 497.2 L467.1 494.9ZM472.0 502.3 L476.0 502.3 L477.0 504.6 L477.0 508.6 L473.0 508.6 L472.0 506.3ZM476.9 513.7 L480.9 513.7 L481.9 516.0 L481.9 520.0 L477.9 520.0 L476.9 517.7ZM481.9 525.1 L485.9 525.1 L486.9 527.3 L486.9 531.3 L482.9 531.3 L481.9 529.1ZM486.8 536.4 L490.8 536.4 L491.8 538.7 L491.8 542.7 L487.8 542.7 L486.8 540.4ZM491.7 547.8 L495.7 547.8 L496.7 550.1 L496.7 554.1 L492.7 554.1 L491.7 551.8ZM496.6 559.2 L500.6 559.2 L501.6 561.5 L501.6 565.5 L497.6 565.5 L496.6 563.2ZM501.6 570.6 L505.6 570.6 L506.5 572.9 L506.5 576.9 L502.5 576.9 L501.6 574.6ZM506.5 582.0 L510.5 582.0 L511.5 584.3 L511.5 588.3 L507.5 588.3 L506.5 586.0ZM511.4 593.3 L515.4 593.3 L516.4 595.6 L516.4 599.6 L512.4 599.6 L511.4 597.3ZM516.3 604.7 L520.3 604.7 L521.3 607.0 L521.3 611.0 L517.3 611.0 L516.3 608.7ZM521.2 616.1 L525.2 616.1 L526.2 618.4 L526.2 622.4 L522.2 622.4 L521.2 620.1ZM526.2 627.5 L530.2 627.5 L531.2 629.8 L531.2 633.8 L527.2 633.8 L526.2 631.5ZM531.1 638.9 L535.1 638.9 L536.1 641.2 L536.1 645.2 L532.1 645.2 L531.1 642.9ZM536.0 650.3 L540.0 650.3 L541.0 652.5 L541.0 656.5 L537.0 656.5 L536.0 654.3ZM540.0 659.5 L544.0 659.5 L545.4 661.6 L545.4 665.6 L541.4 665.6 L540.0 663.5ZM546.7 669.9 L550.7 669.9 L552.1 672.0 L552.1 676.0 L548.1 676.0 L546.7 673.9ZM553.5 680.3 L557.5 680.3 L558.9 682.4 L558.9 686.4 L554.9 686.4 L553.5 684.3ZM560.2 690.7 L564.2 690.7 L565.6 692.8 L565.6 696.8 L561.6 696.8 L560.2 694.7ZM567.0 701.1 L571.0 701.1 L572.4 703.2 L572.4 707.2 L568.4 707.2 L567.0 705.1ZM573.7 711.5 L577.7 711.5 L579.1 713.6 L579.1 717.6 L575.1 717.6 L573.7 715.5ZM580.5 721.9 L584.5 721.9 L585.9 724.0 L585.9 728.0 L581.9 728.0 L580.5 725.9ZM587.2 732.3 L591.2 732.3 L592.6 734.4 L592.6 738.4 L588.6 738.4 L587.2 736.3ZM594.0 742.7 L598.0 742.7 L599.4 744.8 L599.4 748.8 L595.4 748.8 L594.0 746.7ZM600.7 753.1 L604.7 753.1 L606.1 755.2 L606.1 759.2 L602.1 759.2 L600.7 757.1ZM607.5 763.5 L611.5 763.5 L612.9 765.6 L612.9 769.6 L608.9 769.6 L607.5 767.5ZM614.2 773.9 L618.2 773.9 L619.6 776.0 L619.6 780.0 L615.6 780.0 L614.2 777.9ZM621.0 784.3 L625.0 784.3 L626.4 786.4 L626.4 790.4 L622.4 790.4 L621.0 788.3ZM627.7 794.7 L631.7 794.7 L633.1 796.8 L633.1 800.8 L629.1 800.8 L627.7 798.7ZM634.5 805.1 L638.5 805.1 L639.9 807.2 L639.9 811.2 L635.9 811.2 L634.5 809.1ZM637.0 809.0 L641.0 809.0 L642.7 810.9 L642.7 814.9 L638.7 814.9 L637.0 813.0ZM645.3 818.2 L649.3 818.2 L651.0 820.1 L651.0 824.1 L647.0 824.1 L645.3 822.2ZM653.6 827.5 L657.6 827.5 L659.2 829.3 L659.2 833.3 L655.2 833.3 L653.6 831.5ZM661.8 836.7 L665.8 836.7 L667.5 838.5 L667.5 842.5 L663.5 842.5 L661.8 840.7ZM670.1 845.9 L674.1 845.9 L675.8 847.8 L675.8 851.8 L671.8 851.8 L670.1 849.9ZM678.4 855.1 L682.4 855.1 L684.1 857.0 L684.1 861.0 L680.1 861.0 L678.4 859.1ZM686.7 864.4 L690.7 864.4 L692.4 866.2 L692.4 870.2 L688.4 870.2 L686.7 868.4ZM695.0 873.6 L699.0 873.6 L700.7 875.5 L700.7 879.5 L696.7 879.5 L695.0 877.6ZM703.3 882.8 L707.3 882.8 L708.9 884.7 L708.9 888.7 L704.9 888.7 L703.3 886.8ZM711.5 892.0 L715.5 892.0 L717.2 893.9 L717.2 897.9 L713.2 897.9 L711.5 896.0ZM719.8 901.3 L723.8 901.3 L725.5 903.1 L725.5 907.1 L721.5 907.1 L719.8 905.3ZM728.1 910.5 L732.1 910.5 L733.8 912.4 L733.8 916.4 L729.8 916.4 L728.1 914.5ZM733.5 916.5 L737.5 916.5 L739.4 918.1 L739.4 922.1 L735.4 922.1 L733.5 920.5ZM742.9 924.6 L746.9 924.6 L748.8 926.2 L748.8 930.2 L744.8 930.2 L742.9 928.6ZM752.3 932.7 L756.3 932.7 L758.1 934.4 L758.1 938.4 L754.1 938.4 L752.3 936.7ZM761.6 940.8 L765.6 940.8 L767.5 942.5 L767.5 946.5 L763.5 946.5 L761.6 944.8ZM771.0 949.0 L775.0 949.0 L776.9 950.6 L776.9 954.6 L772.9 954.6 L771.0 953.0ZM780.4 957.1 L784.4 957.1 L786.3 958.7 L786.3 962.7 L782.3 962.7 L780.4 961.1ZM789.8 965.2 L793.8 965.2 L795.7 966.8 L795.7 970.8 L791.7 970.8 L789.8 969.2ZM799.1 973.3 L803.1 973.3 L805.0 974.9 L805.0 978.9 L801.0 978.9 L799.1 977.3ZM808.5 981.4 L812.5 981.4 L814.4 983.0 L814.4 987.0 L810.4 987.0 L808.5 985.4ZM817.9 989.5 L821.9 989.5 L823.8 991.2 L823.8 995.2 L819.8 995.2 L817.9 993.5ZM827.3 997.6 L831.3 997.6 L833.2 999.3 L833.2 1003.3 L829.2 1003.3 L827.3 1001.6ZM830.0 1000.0 L834.0 1000.0 L836.0 1001.5 L836.0 1005.5 L832.0 1005.5 L830.0 1004.0ZM840.0 1007.4 L844.0 1007.4 L846.0 1008.9 L846.0 1012.9 L842.0 1012.9 L840.0 1011.4ZM849.9 1014.8 L853.9 1014.8 L855.9 1016.3 L855.9 1020.3 L851.9 1020.3 L849.9 1018.8ZM859.9 1022.2 L863.9 1022.2 L865.9 1023.7 L865.9 1027.7 L861.9 1027.7 L859.9 1026.2ZM869.8 1029.6 L873.8 1029.6 L875.8 1031.1 L875.8 1035.1 L871.8 1035.1 L869.8 1033.6ZM879.8 1037.0 L883.8 1037.0 L885.8 1038.4 L885.8 1042.4 L881.8 1042.4 L879.8 1041.0ZM889.7 1044.3 L893.7 1044.3 L895.7 1045.8 L895.7 1049.8 L891.7 1049.8 L889.7 1048.3ZM899.7 1051.7 L903.7 1051.7 L905.7 1053.2 L905.7 1057.2 L901.7 1057.2 L899.7 1055.7ZM909.7 1059.1 L913.7 1059.1 L915.7 1060.6 L915.7 1064.6 L911.7 1064.6 L909.7 1063.1ZM919.6 1066.5 L923.6 1066.5 L925.6 1068.0 L925.6 1072.0 L921.6 1072.0 L919.6 1070.5ZM927.0 1072.0 L931.0 1072.0 L932.9 1073.6 L932.9 1077.6 L928.9 1077.6 L927.0 1076.0ZM936.5 1079.9 L940.5 1079.9 L942.5 1081.5 L942.5 1085.5 L938.5 1085.5 L936.5 1083.9ZM946.1 1087.8 L950.1 1087.8 L952.0 1089.4 L952.0 1093.4 L948.0 1093.4 L946.1 1091.8ZM955.6 1095.8 L959.6 1095.8 L961.5 1097.4 L961.5 1101.4 L957.5 1101.4 L955.6 1099.8ZM965.2 1103.7 L969.2 1103.7 L971.1 1105.3 L971.1 1109.3 L967.1 1109.3 L965.2 1107.7ZM974.7 1111.6 L978.7 1111.6 L980.6 1113.2 L980.6 1117.2 L976.6 1117.2 L974.7 1115.6ZM984.3 1119.5 L988.3 1119.5 L990.2 1121.1 L990.2 1125.1 L986.2 1125.1 L984.3 1123.5ZM993.8 1127.4 L997.8 1127.4 L999.7 1129.0 L999.7 1133.0 L995.7 1133.0 L993.8 1131.4ZM1003.3 1135.4 L1007.3 1135.4 L1009.3 1136.9 L1009.3 1140.9 L1005.3 1140.9 L1003.3 1139.4ZM1012.9 1143.3 L1016.9 1143.3 L1018.8 1144.9 L1018.8 1148.9 L1014.8 1148.9 L1012.9 1147.3ZM1022.4 1151.2 L1026.4 1151.2 L1028.0 1152.5 L1028.0 1156.5 L1024.0 1156.5 L1022.4 1155.2ZM1024.0 1152.5 L1028.0 1152.5 L1030.1 1153.8 L1030.1 1157.8 L1026.1 1157.8 L1024.0 1156.5ZM1034.6 1158.9 L1038.6 1158.9 L1040.8 1160.2 L1040.8 1164.2 L1036.8 1164.2 L1034.6 1162.9ZM1045.2 1165.3 L1049.2 1165.3 L1051.4 1166.6 L1051.4 1170.6 L1047.4 1170.6 L1045.2 1169.3ZM1055.8 1171.7 L1059.8 1171.7 L1062.0 1173.0 L1062.0 1177.0 L1058.0 1177.0 L1055.8 1175.7ZM1066.5 1178.1 L1070.5 1178.1 L1072.6 1179.4 L1072.6 1183.4 L1068.6 1183.4 L1066.5 1182.1ZM1077.1 1184.5 L1081.1 1184.5 L1083.2 1185.8 L1083.2 1189.8 L1079.2 1189.8 L1077.1 1188.5ZM1087.7 1191.0 L1091.7 1191.0 L1093.8 1192.2 L1093.8 1196.2 L1089.8 1196.2 L1087.7 1195.0ZM1098.3 1197.4 L1102.3 1197.4 L1104.4 1198.7 L1104.4 1202.7 L1100.4 1202.7 L1098.3 1201.4ZM1108.9 1203.8 L1112.9 1203.8 L1115.1 1205.1 L1115.1 1209.1 L1111.1 1209.1 L1108.9 1207.8ZM1119.5 1210.2 L1123.5 1210.2 L1125.4 1211.3 L1125.4 1215.3 L1121.4 1215.3 L1119.5 1214.2ZM1121.4 1211.3 L1125.4 1211.3 L1127.8 1212.0 L1127.8 1216.0 L1123.8 1216.0 L1121.4 1215.3ZM1133.4 1214.6 L1137.4 1214.6 L1139.8 1215.2 L1139.8 1219.2 L1135.8 1219.2 L1133.4 1218.6ZM1145.3 1217.9 L1149.3 1217.9 L1151.7 1218.5 L1151.7 1222.5 L1147.7 1222.5 L1145.3 1221.9ZM1157.3 1221.1 L1161.3 1221.1 L1163.7 1221.8 L1163.7 1225.8 L1159.7 1225.8 L1157.3 1225.1ZM1169.2 1224.4 L1173.2 1224.4 L1175.6 1225.1 L1175.6 1229.1 L1171.6 1229.1 L1169.2 1228.4ZM1181.2 1227.7 L1185.2 1227.7 L1187.6 1228.4 L1187.6 1232.4 L1183.6 1232.4 L1181.2 1231.7ZM1193.2 1231.0 L1197.2 1231.0 L1199.6 1231.6 L1199.6 1235.6 L1195.6 1235.6 L1193.2 1235.0ZM1205.1 1234.2 L1209.1 1234.2 L1211.5 1234.9 L1211.5 1238.9 L1207.5 1238.9 L1205.1 1238.2ZM1217.1 1237.5 L1221.1 1237.5 L1222.8 1238.0 L1222.8 1242.0 L1218.8 1242.0 L1217.1 1241.5ZM1218.8 1238.0 L1222.8 1238.0 L1225.1 1238.9 L1225.1 1242.9 L1221.1 1242.9 L1218.8 1242.0ZM1230.3 1242.7 L1234.3 1242.7 L1236.6 1243.7 L1236.6 1247.7 L1232.6 1247.7 L1230.3 1246.7ZM1241.7 1247.4 L1245.7 1247.4 L1248.1 1248.4 L1248.1 1252.4 L1244.1 1252.4 L1241.7 1251.4ZM1253.2 1252.1 L1257.2 1252.1 L1259.5 1253.1 L1259.5 1257.1 L1255.5 1257.1 L1253.2 1256.1ZM1264.7 1256.8 L1268.7 1256.8 L1271.0 1257.8 L1271.0 1261.8 L1267.0 1261.8 L1264.7 1260.8ZM1276.2 1261.6 L1280.2 1261.6 L1282.5 1262.5 L1282.5 1266.5 L1278.5 1266.5 L1276.2 1265.6ZM1287.6 1266.3 L1291.6 1266.3 L1293.9 1267.2 L1293.9 1271.2 L1289.9 1271.2 L1287.6 1270.3ZM1299.1 1271.0 L1303.1 1271.0 L1305.4 1271.9 L1305.4 1275.9 L1301.4 1275.9 L1299.1 1275.0ZM1310.6 1275.7 L1314.6 1275.7 L1316.8 1276.6 L1316.8 1280.6 L1312.8 1280.6 L1310.6 1279.7ZM1312.8 1276.6 L1315.3 1276.5 L1319.3 1276.5 L1319.3 1280.5 L1316.8 1280.6 L1312.8 1280.6ZM1325.2 1276.3 L1327.7 1276.2 L1331.7 1276.2 L1331.7 1280.2 L1329.2 1280.3 L1325.2 1280.3ZM1337.6 1276.0 L1340.1 1275.9 L1344.1 1275.9 L1344.1 1279.9 L1341.6 1280.0 L1337.6 1280.0ZM1350.0 1275.7 L1352.5 1275.6 L1356.5 1275.6 L1356.5 1279.6 L1354.0 1279.7 L1350.0 1279.7ZM1362.4 1275.4 L1364.9 1275.3 L1368.9 1275.3 L1368.9 1279.3 L1366.4 1279.4 L1362.4 1279.4ZM1374.8 1275.1 L1377.3 1275.0 L1381.3 1275.0 L1381.3 1279.0 L1378.8 1279.1 L1374.8 1279.1ZM1387.2 1274.8 L1389.7 1274.7 L1393.7 1274.7 L1393.7 1278.7 L1391.2 1278.8 L1387.2 1278.8ZM1399.6 1274.5 L1402.1 1274.4 L1406.1 1274.4 L1406.1 1278.4 L1403.6 1278.5 L1399.6 1278.5ZM1411.2 1274.2 L1413.3 1272.9 L1417.3 1272.9 L1417.3 1276.9 L1415.2 1278.2 L1411.2 1278.2ZM1421.7 1267.6 L1423.8 1266.3 L1427.8 1266.3 L1427.8 1270.3 L1425.7 1271.6 L1421.7 1271.6ZM1432.2 1261.0 L1434.3 1259.7 L1438.3 1259.7 L1438.3 1263.7 L1436.2 1265.0 L1432.2 1265.0ZM1442.7 1254.4 L1444.8 1253.0 L1448.8 1253.0 L1448.8 1257.0 L1446.7 1258.4 L1442.7 1258.4ZM1453.2 1247.8 L1455.3 1246.4 L1459.3 1246.4 L1459.3 1250.4 L1457.2 1251.8 L1453.2 1251.8ZM1463.7 1241.2 L1465.8 1239.8 L1469.8 1239.8 L1469.8 1243.8 L1467.7 1245.2 L1463.7 1245.2ZM1474.2 1234.6 L1476.3 1233.2 L1480.3 1233.2 L1480.3 1237.2 L1478.2 1238.6 L1474.2 1238.6ZM1484.7 1227.9 L1486.8 1226.6 L1490.8 1226.6 L1490.8 1230.6 L1488.7 1231.9 L1484.7 1231.9ZM1495.1 1221.3 L1497.3 1220.0 L1501.3 1220.0 L1501.3 1224.0 L1499.1 1225.3 L1495.1 1225.3ZM1505.6 1214.7 L1507.6 1213.5 L1511.6 1213.5 L1511.6 1217.5 L1509.6 1218.7 L1505.6 1218.7ZM1507.6 1213.5 L1509.9 1212.5 L1513.9 1212.5 L1513.9 1216.5 L1511.6 1217.5 L1507.6 1217.5ZM1519.0 1208.7 L1521.3 1207.7 L1525.3 1207.7 L1525.3 1211.7 L1523.0 1212.7 L1519.0 1212.7ZM1530.4 1203.8 L1532.7 1202.8 L1536.7 1202.8 L1536.7 1206.8 L1534.4 1207.8 L1530.4 1207.8ZM1541.8 1199.0 L1544.1 1198.0 L1548.1 1198.0 L1548.1 1202.0 L1545.8 1203.0 L1541.8 1203.0ZM1553.3 1194.1 L1555.6 1193.1 L1559.6 1193.1 L1559.6 1197.1 L1557.3 1198.1 L1553.3 1198.1ZM1564.7 1189.3 L1567.0 1188.3 L1571.0 1188.3 L1571.0 1192.3 L1568.7 1193.3 L1564.7 1193.3ZM1576.1 1184.4 L1578.4 1183.4 L1582.4 1183.4 L1582.4 1187.4 L1580.1 1188.4 L1576.1 1188.4ZM1587.5 1179.6 L1589.8 1178.6 L1593.8 1178.6 L1593.8 1182.6 L1591.5 1183.6 L1587.5 1183.6ZM1598.9 1174.7 L1601.2 1173.8 L1605.2 1173.8 L1605.2 1177.8 L1602.9 1178.7 L1598.9 1178.7ZM1603.0 1173.0 L1605.3 1172.0 L1609.3 1172.0 L1609.3 1176.0 L1607.0 1177.0 L1603.0 1177.0ZM1614.3 1167.9 L1616.6 1166.9 L1620.6 1166.9 L1620.6 1170.9 L1618.3 1171.9 L1614.3 1171.9ZM1625.6 1162.9 L1627.9 1161.9 L1631.9 1161.9 L1631.9 1165.9 L1629.6 1166.9 L1625.6 1166.9ZM1637.0 1157.8 L1639.2 1156.8 L1643.2 1156.8 L1643.2 1160.8 L1641.0 1161.8 L1637.0 1161.8ZM1648.3 1152.8 L1650.6 1151.8 L1654.6 1151.8 L1654.6 1155.8 L1652.3 1156.8 L1648.3 1156.8ZM1659.6 1147.7 L1661.9 1146.7 L1665.9 1146.7 L1665.9 1150.7 L1663.6 1151.7 L1659.6 1151.7ZM1670.9 1142.7 L1673.2 1141.6 L1677.2 1141.6 L1677.2 1145.6 L1674.9 1146.7 L1670.9 1146.7ZM1682.3 1137.6 L1684.5 1136.6 L1688.5 1136.6 L1688.5 1140.6 L1686.3 1141.6 L1682.3 1141.6ZM1693.6 1132.5 L1695.9 1131.5 L1699.9 1131.5 L1699.9 1135.5 L1697.6 1136.5 L1693.6 1136.5ZM1701.5 1129.0 L1703.2 1127.2 L1707.2 1127.2 L1707.2 1131.2 L1705.5 1133.0 L1701.5 1133.0ZM1710.1 1120.1 L1711.9 1118.3 L1715.9 1118.3 L1715.9 1122.3 L1714.1 1124.1 L1710.1 1124.1ZM1718.8 1111.2 L1720.5 1109.4 L1724.5 1109.4 L1724.5 1113.4 L1722.8 1115.2 L1718.8 1115.2ZM1727.4 1102.3 L1729.1 1100.5 L1733.1 1100.5 L1733.1 1104.5 L1731.4 1106.3 L1727.4 1106.3ZM1736.0 1093.4 L1737.7 1091.6 L1741.7 1091.6 L1741.7 1095.6 L1740.0 1097.4 L1736.0 1097.4ZM1744.6 1084.5 L1746.4 1082.7 L1750.4 1082.7 L1750.4 1086.7 L1748.6 1088.5 L1744.6 1088.5ZM1753.3 1075.6 L1755.0 1073.8 L1759.0 1073.8 L1759.0 1077.8 L1757.3 1079.6 L1753.3 1079.6ZM1761.9 1066.6 L1763.6 1064.9 L1767.6 1064.9 L1767.6 1068.9 L1765.9 1070.6 L1761.9 1070.6ZM1770.5 1057.7 L1772.2 1055.9 L1776.2 1055.9 L1776.2 1059.9 L1774.5 1061.7 L1770.5 1061.7ZM1779.1 1048.8 L1780.9 1047.0 L1784.9 1047.0 L1784.9 1051.0 L1783.1 1052.8 L1779.1 1052.8ZM1787.8 1039.9 L1789.5 1038.1 L1793.5 1038.1 L1793.5 1042.1 L1791.8 1043.9 L1787.8 1043.9ZM1793.5 1034.0 L1794.9 1031.9 L1798.9 1031.9 L1798.9 1035.9 L1797.5 1038.0 L1793.5 1038.0ZM1800.6 1023.8 L1802.0 1021.8 L1806.0 1021.8 L1806.0 1025.8 L1804.6 1027.8 L1800.6 1027.8ZM1807.6 1013.6 L1809.1 1011.6 L1813.1 1011.6 L1813.1 1015.6 L1811.6 1017.6 L1807.6 1017.6ZM1814.7 1003.4 L1816.1 1001.4 L1820.1 1001.4 L1820.1 1005.4 L1818.7 1007.4 L1814.7 1007.4ZM1821.8 993.2 L1823.2 991.2 L1827.2 991.2 L1827.2 995.2 L1825.8 997.2 L1821.8 997.2ZM1828.8 983.0 L1830.3 981.0 L1834.3 981.0 L1834.3 985.0 L1832.8 987.0 L1828.8 987.0ZM1835.9 972.9 L1837.3 970.8 L1841.3 970.8 L1841.3 974.8 L1839.9 976.9 L1835.9 976.9ZM1843.0 962.7 L1844.4 960.6 L1848.4 960.6 L1848.4 964.6 L1847.0 966.7 L1843.0 966.7ZM1850.0 952.5 L1851.4 950.4 L1855.4 950.4 L1855.4 954.4 L1854.0 956.5 L1850.0 956.5ZM1857.1 942.3 L1858.5 940.2 L1862.5 940.2 L1862.5 944.2 L1861.1 946.3 L1857.1 946.3ZM1864.2 932.1 L1865.6 930.0 L1869.6 930.0 L1869.6 934.0 L1868.2 936.1 L1864.2 936.1ZM1871.2 921.9 L1872.6 919.9 L1876.6 919.9 L1876.6 923.9 L1875.2 925.9 L1871.2 925.9ZM1878.3 911.7 L1879.7 909.7 L1883.7 909.7 L1883.7 913.7 L1882.3 915.7 L1878.3 915.7ZM1885.4 901.5 L1886.8 899.5 L1890.8 899.5 L1890.8 903.5 L1889.4 905.5 L1885.4 905.5ZM1892.4 891.3 L1893.0 890.5 L1897.0 890.5 L1897.0 894.5 L1896.4 895.3 L1892.4 895.3ZM1893.0 890.5 L1894.3 888.3 L1898.3 888.3 L1898.3 892.3 L1897.0 894.5 L1893.0 894.5ZM1899.3 879.8 L1900.5 877.6 L1904.5 877.6 L1904.5 881.6 L1903.3 883.8 L1899.3 883.8ZM1905.5 869.1 L1906.8 866.9 L1910.8 866.9 L1910.8 870.9 L1909.5 873.1 L1905.5 873.1ZM1911.8 858.4 L1913.1 856.2 L1917.1 856.2 L1917.1 860.2 L1915.8 862.4 L1911.8 862.4ZM1918.1 847.7 L1919.3 845.5 L1923.3 845.5 L1923.3 849.5 L1922.1 851.7 L1918.1 851.7ZM1924.3 837.0 L1925.6 834.8 L1929.6 834.8 L1929.6 838.8 L1928.3 841.0 L1924.3 841.0ZM1930.6 826.3 L1931.9 824.1 L1935.9 824.1 L1935.9 828.1 L1934.6 830.3 L1930.6 830.3ZM1936.9 815.6 L1938.1 813.4 L1942.1 813.4 L1942.1 817.4 L1940.9 819.6 L1936.9 819.6ZM1943.1 804.9 L1944.4 802.7 L1948.4 802.7 L1948.4 806.7 L1947.1 808.9 L1943.1 808.9ZM1949.4 794.2 L1950.7 792.0 L1954.7 792.0 L1954.7 796.0 L1953.4 798.2 L1949.4 798.2ZM1955.7 783.5 L1956.9 781.3 L1960.9 781.3 L1960.9 785.3 L1959.7 787.5 L1955.7 787.5ZM1961.9 772.8 L1963.2 770.6 L1967.2 770.6 L1967.2 774.6 L1965.9 776.8 L1961.9 776.8ZM1968.2 762.1 L1969.5 759.9 L1973.5 759.9 L1973.5 763.9 L1972.2 766.1 L1968.2 766.1ZM1974.5 751.4 L1975.7 749.2 L1979.7 749.2 L1979.7 753.2 L1978.5 755.4 L1974.5 755.4ZM1980.7 740.7 L1982.0 738.5 L1986.0 738.5 L1986.0 742.5 L1984.7 744.7 L1980.7 744.7ZM1987.0 730.0 L1988.3 727.8 L1992.3 727.8 L1992.3 731.8 L1991.0 734.0 L1987.0 734.0Z"/>
</g>
<g shape-rendering="crispEdges" fill="none" stroke-width="4">
<line x1="2087" y1="320" x2="2170" y2="320" stroke="#E7B853"/>
<line x1="2087" y1="640" x2="2170" y2="640" stroke="#E7B853" stroke-dasharray="5 5"/>
<line x1="2087" y1="960" x2="2170" y2="960" stroke="#B83726"/>
<line x1="2087" y1="1280" x2="2170" y2="1280" stroke="#B83726" stroke-dasharray="5 5"/>
</g>
<text x="2186" y="338" font-size="65">Data (H1)</text>
<text x="2186" y="658" font-size="65">Noise (H1)</text>
<text x="2186" y="978" font-size="65">Data (L1)</text>
<text x="2186" y="1298" font-size="65">Noise (L1)</text>
<text x="1212.6" y="73" font-size="73.2" text-anchor="middle">Amplitude variance</text>
<text transform="translate(107.3,158) rotate(-90)" font-size="52" text-anchor="end">Amplitude variance</text>
<text x="2046" y="1542.6" font-size="52" text-anchor="end">Frequency [Hz]</text>
<defs><filter id="nolcd" x="-0.2" y="-0.2" width="1.4" height="1.4" color-interpolation-filters="sRGB"><feOffset dx="0" dy="0"/></filter></defs>
<g filter="url(#nolcd)"><text x="634.5" y="1511" font-size="52">10<tspan font-size="33.5" x="691.3" y="1489">2</tspan></text></g>
<g filter="url(#nolcd)"><text x="1872.5" y="1511" font-size="52">10<tspan font-size="33.5" x="1930.3" y="1489">3</tspan></text></g>
<g filter="url(#nolcd)"><text x="159" y="746" font-size="52">10<tspan font-size="33.5" x="214" y="727">−</tspan><tspan font-size="33.5" x="233.9" y="725">47</tspan></text></g>
</svg></body></html>
